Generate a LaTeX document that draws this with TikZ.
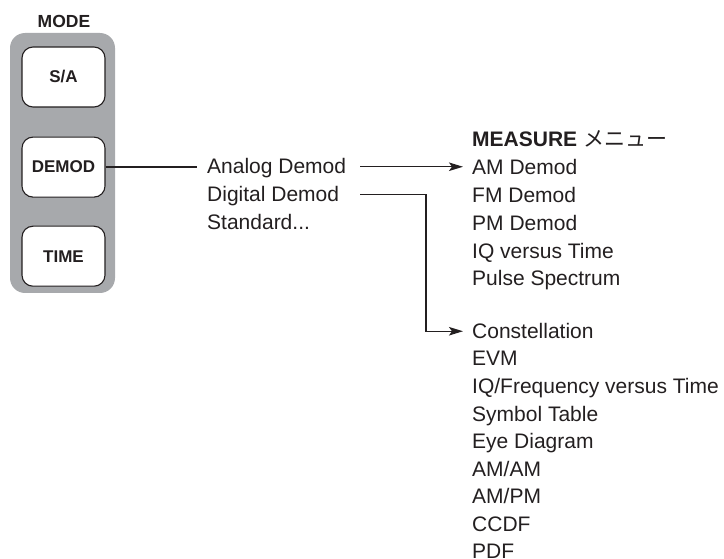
\documentclass[tikz,border=0pt]{standalone}
\usepackage{fontspec}
\setmainfont{Liberation Sans}
\newfontfamily\jpfont{Noto Sans CJK JP}
\usepackage{tikz}
\usetikzlibrary{arrows.meta,positioning,calc}
\definecolor{ink}{HTML}{231F20}
\definecolor{panelgray}{HTML}{A7A9AC}
\tikzset{
  >={Stealth[length=14pt,width=8.5pt,inset=3pt]},
  key/.style={draw=ink,fill=white,line width=1.1pt,rounded corners=11pt,minimum width=83pt,minimum height=60pt,inner sep=0pt,font=\fontsize{17}{20}\selectfont\bfseries\color{ink}},
  item/.style={anchor=base west,inner sep=0pt,text height=14.5pt,text depth=0pt,font=\fontsize{21}{24}\selectfont\color{ink}},
  lnk/.style={draw=ink,line width=1.2pt},
  arr/.style={lnk,->},
}
\begin{document}
\begin{tikzpicture}[x=1pt,y=-1pt]
\useasboundingbox (0,0) rectangle (724,559);
% mode panel
\fill[panelgray,rounded corners=15pt] (10,33) rectangle (115,293);
\node[font=\fontsize{17.5}{20}\selectfont\bfseries\color{ink},anchor=base,inner sep=0pt] (mode) at (64,28) {MODE};
\node[key] (sa) at (63.5,77) {S/A};
\node[key,below=29pt of sa] (demod) {DEMOD};
\node[key,below=28pt of demod] (time) {TIME};
% demod softkeys
\node[item] (analog) at (207,174) {Analog Demod};
\node[item,below=13pt of analog.south west,anchor=north west] (digital) {Digital Demod};
\node[item,below=13pt of digital.south west,anchor=north west] (standard) {Standard...};
% measure menus
\node[item,font=\fontsize{21}{24}\selectfont\bfseries\color{ink}] (measure) at (472,146.5) {MEASURE {\jpfont\mdseries メニュー}};
\node[item,below=13pt of measure.south west,anchor=north west] (am) {AM Demod};
\node[item,below=13pt of am.south west,anchor=north west] (fm) {FM Demod};
\node[item,below=13pt of fm.south west,anchor=north west] (pm) {PM Demod};
\node[item,below=13pt of pm.south west,anchor=north west] (iq) {IQ versus Time};
\node[item,below=13pt of iq.south west,anchor=north west] (pulse) {Pulse Spectrum};
\node[item] (const) at (472,338.5) {Constellation};
\node[item,below=12.6pt of const.south west,anchor=north west] (evm) {EVM};
\node[item,below=12.6pt of evm.south west,anchor=north west] (iqf) {IQ/Frequency versus Time};
\node[item,below=12.6pt of iqf.south west,anchor=north west] (sym) {Symbol Table};
\node[item,below=12.6pt of sym.south west,anchor=north west] (eye) {Eye Diagram};
\node[item,below=12.6pt of eye.south west,anchor=north west] (amam) {AM/AM};
\node[item,below=12.6pt of amam.south west,anchor=north west] (ampm) {AM/PM};
\node[item,below=12.6pt of ampm.south west,anchor=north west] (ccdf) {CCDF};
\node[item,below=12.6pt of ccdf.south west,anchor=north west] (pdf) {PDF};
% connectors
\coordinate (astart) at ($(analog.east)+(14pt,0)$);
\coordinate (dstart) at (astart |- digital.east);
\coordinate (dturn) at (426,0);
\draw[lnk] (demod.east) -- ([xshift=-10pt]demod.east -| analog.west);
\draw[arr] (astart) -- ([xshift=-9pt]astart -| am.west);
\draw[arr] (dstart) -- (dturn |- dstart) |- ([xshift=-9pt]const.west);
\end{tikzpicture}
\end{document}
